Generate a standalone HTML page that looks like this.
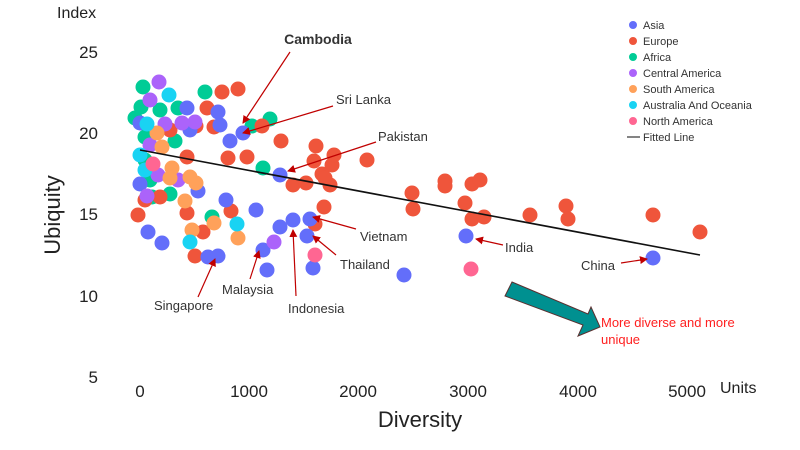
<!DOCTYPE html>
<html><head><meta charset="utf-8"><style>
html,body{margin:0;padding:0;background:#fff;}
svg{display:block;font-family:"Liberation Sans",Arial,sans-serif;}
</style></head><body>
<svg width="800" height="450" viewBox="0 0 800 450" xmlns="http://www.w3.org/2000/svg">
<defs><marker id="ah" markerWidth="8" markerHeight="8" refX="7" refY="4" orient="auto" markerUnits="userSpaceOnUse"><path d="M0,0 L8,4 L0,8 z" fill="#c00000"/></marker></defs>
<g fill="#222" font-size="17">
<text x="57" y="18" font-size="16">Index</text>
<text x="98" y="58" text-anchor="end">25</text>
<text x="98" y="139" text-anchor="end">20</text>
<text x="98" y="220" text-anchor="end">15</text>
<text x="98" y="302" text-anchor="end">10</text>
<text x="98" y="383" text-anchor="end">5</text>
<text x="140" y="397" text-anchor="middle">0</text>
<text x="249" y="397" text-anchor="middle">1000</text>
<text x="358" y="397" text-anchor="middle">2000</text>
<text x="468" y="397" text-anchor="middle">3000</text>
<text x="578" y="397" text-anchor="middle">4000</text>
<text x="687" y="397" text-anchor="middle">5000</text>
<text x="720" y="393" font-size="16">Units</text>
<text x="420" y="427" text-anchor="middle" font-size="22">Diversity</text>
<text transform="translate(60,215) rotate(-90)" text-anchor="middle" font-size="22">Ubiquity</text>
</g>
<g id="dots">
<g fill="#00cc96"><circle cx="143" cy="87" r="7.5"/><circle cx="141" cy="107" r="7.5"/><circle cx="178" cy="108" r="7.5"/><circle cx="135" cy="118" r="7.5"/><circle cx="145" cy="137" r="7.5"/><circle cx="175" cy="141" r="7.5"/><circle cx="152" cy="197" r="7.5"/><circle cx="170" cy="194" r="7.5"/><circle cx="205" cy="92" r="7.5"/><circle cx="252" cy="126" r="7.5"/><circle cx="270" cy="119" r="7.5"/><circle cx="263" cy="168" r="7.5"/><circle cx="212" cy="217" r="7.5"/><circle cx="160" cy="110" r="7.5"/><circle cx="150" cy="180" r="7.5"/><circle cx="145" cy="160" r="7.5"/></g>
<g fill="#ef553b"><circle cx="160" cy="197" r="7.5"/><circle cx="145" cy="200" r="7.5"/><circle cx="138" cy="215" r="7.5"/><circle cx="196" cy="126" r="7.5"/><circle cx="207" cy="108" r="7.5"/><circle cx="214" cy="127" r="7.5"/><circle cx="222" cy="92" r="7.5"/><circle cx="238" cy="89" r="7.5"/><circle cx="262" cy="126" r="7.5"/><circle cx="281" cy="141" r="7.5"/><circle cx="228" cy="158" r="7.5"/><circle cx="247" cy="157" r="7.5"/><circle cx="187" cy="157" r="7.5"/><circle cx="170" cy="130" r="7.5"/><circle cx="316" cy="146" r="7.5"/><circle cx="314" cy="161" r="7.5"/><circle cx="332" cy="165" r="7.5"/><circle cx="334" cy="155" r="7.5"/><circle cx="322" cy="174" r="7.5"/><circle cx="330" cy="185" r="7.5"/><circle cx="367" cy="160" r="7.5"/><circle cx="293" cy="185" r="7.5"/><circle cx="306" cy="183" r="7.5"/><circle cx="325" cy="178" r="7.5"/><circle cx="324" cy="207" r="7.5"/><circle cx="315" cy="224" r="7.5"/><circle cx="187" cy="213" r="7.5"/><circle cx="231" cy="211" r="7.5"/><circle cx="203" cy="232" r="7.5"/><circle cx="195" cy="256" r="7.5"/><circle cx="412" cy="193" r="7.5"/><circle cx="413" cy="209" r="7.5"/><circle cx="445" cy="181" r="7.5"/><circle cx="445" cy="186" r="7.5"/><circle cx="472" cy="184" r="7.5"/><circle cx="480" cy="180" r="7.5"/><circle cx="465" cy="203" r="7.5"/><circle cx="472" cy="219" r="7.5"/><circle cx="484" cy="217" r="7.5"/><circle cx="530" cy="215" r="7.5"/><circle cx="566" cy="206" r="7.5"/><circle cx="568" cy="219" r="7.5"/><circle cx="653" cy="215" r="7.5"/><circle cx="700" cy="232" r="7.5"/></g>
<g fill="#636efa"><circle cx="187" cy="108" r="7.5"/><circle cx="140" cy="123" r="7.5"/><circle cx="140" cy="184" r="7.5"/><circle cx="218" cy="112" r="7.5"/><circle cx="220" cy="125" r="7.5"/><circle cx="230" cy="141" r="7.5"/><circle cx="243" cy="133" r="7.5"/><circle cx="280" cy="175" r="7.5"/><circle cx="198" cy="191" r="7.5"/><circle cx="226" cy="200" r="7.5"/><circle cx="148" cy="232" r="7.5"/><circle cx="162" cy="243" r="7.5"/><circle cx="208" cy="257" r="7.5"/><circle cx="218" cy="256" r="7.5"/><circle cx="256" cy="210" r="7.5"/><circle cx="280" cy="227" r="7.5"/><circle cx="293" cy="220" r="7.5"/><circle cx="310" cy="219" r="7.5"/><circle cx="307" cy="236" r="7.5"/><circle cx="263" cy="250" r="7.5"/><circle cx="267" cy="270" r="7.5"/><circle cx="313" cy="268" r="7.5"/><circle cx="466" cy="236" r="7.5"/><circle cx="653" cy="258" r="7.5"/><circle cx="404" cy="275" r="7.5"/><circle cx="190" cy="130" r="7.5"/></g>
<g fill="#ab63fa"><circle cx="159" cy="82" r="7.5"/><circle cx="150" cy="100" r="7.5"/><circle cx="195" cy="122" r="7.5"/><circle cx="182" cy="123" r="7.5"/><circle cx="165" cy="124" r="7.5"/><circle cx="150" cy="145" r="7.5"/><circle cx="178" cy="180" r="7.5"/><circle cx="147" cy="196" r="7.5"/><circle cx="274" cy="242" r="7.5"/><circle cx="158" cy="175" r="7.5"/></g>
<g fill="#ffa15a"><circle cx="157" cy="133" r="7.5"/><circle cx="162" cy="147" r="7.5"/><circle cx="172" cy="168" r="7.5"/><circle cx="170" cy="178" r="7.5"/><circle cx="190" cy="177" r="7.5"/><circle cx="196" cy="183" r="7.5"/><circle cx="185" cy="201" r="7.5"/><circle cx="214" cy="223" r="7.5"/><circle cx="238" cy="238" r="7.5"/><circle cx="192" cy="230" r="7.5"/></g>
<g fill="#19d3f3"><circle cx="169" cy="95" r="7.5"/><circle cx="147" cy="124" r="7.5"/><circle cx="140" cy="155" r="7.5"/><circle cx="145" cy="170" r="7.5"/><circle cx="237" cy="224" r="7.5"/><circle cx="190" cy="242" r="7.5"/></g>
<g fill="#ff6692"><circle cx="153" cy="164" r="7.5"/><circle cx="315" cy="255" r="7.5"/><circle cx="471" cy="269" r="7.5"/></g>
</g>
<line x1="140" y1="150" x2="700" y2="255" stroke="#111" stroke-width="1.6"/>
<g stroke="#c00000" stroke-width="1.2" fill="none" marker-end="url(#ah)">
<line x1="290" y1="52" x2="243" y2="123"/>
<line x1="333" y1="106" x2="243" y2="133"/>
<line x1="376" y1="142" x2="288" y2="171"/>
<line x1="356" y1="229" x2="313" y2="217"/>
<line x1="336" y1="255" x2="313" y2="236"/>
<line x1="503" y1="245" x2="476" y2="239"/>
<line x1="621" y1="263" x2="647" y2="259"/>
<line x1="198" y1="297" x2="215" y2="259"/>
<line x1="250" y1="279" x2="259" y2="251"/>
<line x1="296" y1="296" x2="293" y2="230"/>
</g>
<g fill="#333" font-size="13">
<text x="318" y="44" text-anchor="middle" font-weight="bold" font-size="14">Cambodia</text>
<text x="336" y="104">Sri Lanka</text>
<text x="378" y="141">Pakistan</text>
<text x="360" y="241">Vietnam</text>
<text x="340" y="269">Thailand</text>
<text x="505" y="252">India</text>
<text x="581" y="270">China</text>
<text x="154" y="310">Singapore</text>
<text x="222" y="294">Malaysia</text>
<text x="288" y="313">Indonesia</text>
</g>
<polygon points="512,282 588,314 591,307 600,327 578,336 583,325 505,296" fill="#009090" stroke="#5a3030" stroke-width="1"/>
<text x="601" y="327" fill="#ff2020" font-size="13">More diverse and more</text>
<text x="601" y="344" fill="#ff2020" font-size="13">unique</text>
<g font-size="11" fill="#333">
<circle cx="633" cy="25" r="4" fill="#636efa"/><text x="643" y="29">Asia</text>
<circle cx="633" cy="41" r="4" fill="#ef553b"/><text x="643" y="45">Europe</text>
<circle cx="633" cy="57" r="4" fill="#00cc96"/><text x="643" y="61">Africa</text>
<circle cx="633" cy="73" r="4" fill="#ab63fa"/><text x="643" y="77">Central America</text>
<circle cx="633" cy="89" r="4" fill="#ffa15a"/><text x="643" y="93">South America</text>
<circle cx="633" cy="105" r="4" fill="#19d3f3"/><text x="643" y="109">Australia And Oceania</text>
<circle cx="633" cy="121" r="4" fill="#ff6692"/><text x="643" y="125">North America</text>
<line x1="627" y1="137" x2="640" y2="137" stroke="#333" stroke-width="1.2"/><text x="643" y="141">Fitted Line</text>
</g>
</svg>
</body></html>
